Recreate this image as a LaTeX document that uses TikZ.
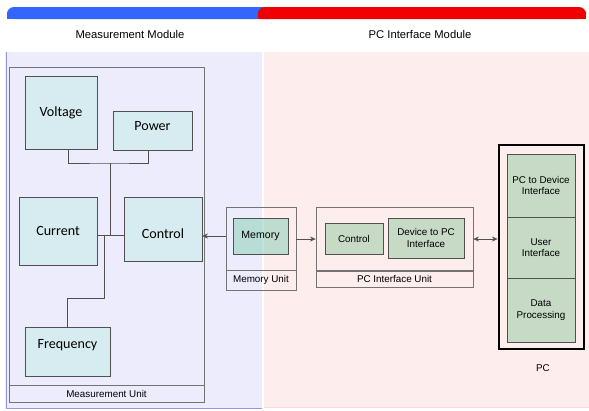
\documentclass[tikz,border=0pt]{standalone}
\usepackage{fontspec}
\setmainfont{Liberation Sans}
\newfontfamily\calfont{Carlito}
\usetikzlibrary{arrows.meta}
\definecolor{barblue}{RGB}{51,102,255}
\definecolor{barred}{RGB}{240,0,0}
\definecolor{bgblue}{RGB}{236,236,252}
\definecolor{bgpink}{RGB}{253,237,237}
\definecolor{bgline}{RGB}{150,150,230}
\definecolor{mfill}{RGB}{214,236,240}
\definecolor{pfill}{RGB}{198,218,198}
\definecolor{memfill}{RGB}{150,210,190}
\definecolor{edge}{RGB}{80,80,80}

\begin{document}
\begin{tikzpicture}[x=0.025cm,y=-0.025cm,>={Stealth[length=4pt,width=3.5pt]},
 font=\fontsize{7}{8}\selectfont,
 mbox/.style={draw=edge,fill=mfill,font=\calfont\fontsize{10}{12}\selectfont},
 pbox/.style={draw=edge,fill=pfill,align=center,inner sep=1pt},
 unit/.style={draw=edge!80,thin},
 wire/.style={draw=edge,thin}]
\useasboundingbox (0,0) rectangle (589,410);
% backgrounds of the two modules
\fill[bgblue] (5,52) rectangle (262,408);
\fill[bgpink] (264,52) rectangle (589,408);
\draw[bgline,semithick] (6,52) -- (6,408) -- (262,408);
\draw[red!15,semithick] (264,407) -- (589,407);
\fill[barblue,rounded corners=5pt] (7,7) rectangle (275,19);
\fill[barblue] (7,12) rectangle (262,19);
\fill[barred,rounded corners=5pt] (258,7) rectangle (586,19);
\fill[barred] (258,12) rectangle (586,19);
\node[font=\fontsize{8}{10}\selectfont] (mmod) at (130,34) {Measurement Module};
\node[font=\fontsize{8}{10}\selectfont] (pmod) at (420,34) {PC Interface Module};

% measurement unit
\node[unit,minimum width=4.875cm,minimum height=7.95cm] (munit) at (106.5,226) {};
\node[unit,minimum width=4.875cm,minimum height=0.425cm] (mlab) at (106.5,393.5) {Measurement Unit};
\node[mbox,minimum width=1.8cm,minimum height=1.825cm] (volt) at (61,112.5) {Voltage};
\node[mbox,minimum width=1.975cm,minimum height=0.975cm,text depth=0.25cm] (pow) at (152.5,130.5) {Power};
\node[mbox,minimum width=1.95cm,minimum height=1.7cm] (cur) at (58,231) {Current};
\node[mbox,minimum width=1.95cm,minimum height=1.6cm,text height=0.5cm] (ctl) at (163,229) {Control};
\node[mbox,minimum width=2.125cm,minimum height=1.225cm,text depth=0.4cm] (freq) at (67.5,351.5) {Frequency};
\coordinate (vp) at (110,163);
\coordinate (hub) at (110,235);
\coordinate (fq) at (104,235);
\coordinate (fbend) at (104,298);
\draw[wire] ([xshift=0.175cm]volt.south) |- (vp) -| ([xshift=-0.1125cm]pow.south);
\draw[wire] (vp) -- (hub);
\draw[wire] (cur.east |- hub) -- (ctl.west |- hub);
\draw[wire] (fq) -- (fbend) -| (freq.north);

% memory unit
\node[unit,minimum width=1.75cm,minimum height=1.575cm] (memunit) at (261,238.5) {};
\node[unit,minimum width=1.75cm,minimum height=0.5cm] (memlab) at (261,280) {Memory Unit};
\node[draw=edge,fill=memfill,fill opacity=0.6,text opacity=1,minimum width=1.375cm,minimum height=0.9cm,font=\fontsize{7.5}{9}\selectfont] (mem) at (260.5,236) {Memory};

% pc interface unit
\node[unit,minimum width=3.925cm,minimum height=1.6cm] (pcunit) at (394.5,239) {};
\node[unit,minimum width=3.925cm,minimum height=0.375cm] (pclab) at (394.5,278.5) {PC Interface Unit};
\node[pbox,minimum width=1.45cm,minimum height=0.775cm] (pctl) at (354,238.5) {Control};
\node[pbox,minimum width=1.9cm,minimum height=1cm] (dev) at (426,238) {Device to PC\\Interface};

% pc
\node[draw,line width=2pt,minimum width=2.125cm,minimum height=5.1cm] (pc) at (541.5,247) {};
\foreach \n/\y/\h/\t in {pcdev/185.5/1.575/{PC to Device\\Interface},
  ui/247.5/1.525/{User\\Interface}, dp/310/1.6/{Data\\Processing}}
  \node[pbox,minimum width=1.7cm,minimum height=\h cm] (\n) at (541,\y) {\t};
\node (pclbl) at (543,368) {PC};

% connections between units
\draw[wire,->] (memunit.west |- mem) -- (ctl.east |- mem);
\draw[wire,->] (memunit.east |- pcunit) -- (pcunit.west);
\draw[wire,<->] (pcunit.east) -- (pcunit.east -| pc.west);
\end{tikzpicture}
\end{document}
